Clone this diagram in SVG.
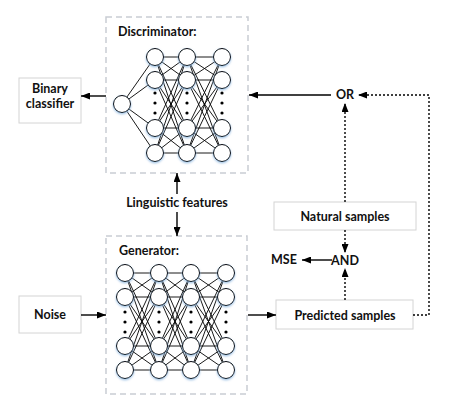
<svg xmlns="http://www.w3.org/2000/svg" width="464" height="419" viewBox="0 0 464 419">
<style>
.t{font-family:Lato,"Open Sans","Liberation Sans",sans-serif;font-weight:bold;font-size:12.5px;fill:#111}
.box{fill:#fff;stroke:#d4d4d4;stroke-width:1}
.nn{fill:#fff;stroke:#c9cdd3;stroke-width:1.5;stroke-dasharray:6,4}
.w{fill:none;stroke:#000;stroke-width:0.9}
.n{fill:#fff;stroke:#000;stroke-width:1}
.dot{fill:#000}
.a{fill:none;stroke:#000;stroke-width:1.4}
.d{fill:none;stroke:#000;stroke-width:1.4;stroke-dasharray:2,2}
</style>
<defs>
<marker id="ah" markerUnits="userSpaceOnUse" markerWidth="9" markerHeight="7" refX="9" refY="3.5" orient="auto"><path d="M0,0 L9,3.5 L0,7 z" fill="#000"/></marker>
<filter id="glow" x="-40%" y="-40%" width="180%" height="180%"><feDropShadow dx="0" dy="1.2" stdDeviation="1.2" flood-color="#8fb8e0" flood-opacity="0.9"/></filter>
</defs>
<rect width="464" height="419" fill="#fff"/>

<g id="discriminator">
<rect class="nn" x="106" y="17" width="142" height="156"/>
<text class="t" x="118" y="36">Discriminator:</text>
<path class="w" d="M122 104L155 57M122 104L155 80M122 104L155 128M122 104L155 153
M155 57L187 57M155 57L187 80M155 57L187 128M155 57L187 153
M155 80L187 57M155 80L187 80M155 80L187 128M155 80L187 153
M155 128L187 57M155 128L187 80M155 128L187 128M155 128L187 153
M155 153L187 57M155 153L187 80M155 153L187 128M155 153L187 153
M187 57L222 57M187 57L222 80M187 57L222 128M187 57L222 153
M187 80L222 57M187 80L222 80M187 80L222 128M187 80L222 153
M187 128L222 57M187 128L222 80M187 128L222 128M187 128L222 153
M187 153L222 57M187 153L222 80M187 153L222 128M187 153L222 153"/>
<g filter="url(#glow)">
<circle class="n" cx="122" cy="104" r="8.5"/>
<circle class="n" cx="155" cy="57" r="8.5"/><circle class="n" cx="155" cy="80" r="8.5"/><circle class="n" cx="155" cy="128" r="8.5"/><circle class="n" cx="155" cy="153" r="8.5"/>
<circle class="n" cx="187" cy="57" r="8.5"/><circle class="n" cx="187" cy="80" r="8.5"/><circle class="n" cx="187" cy="128" r="8.5"/><circle class="n" cx="187" cy="153" r="8.5"/>
<circle class="n" cx="222" cy="57" r="8.5"/><circle class="n" cx="222" cy="80" r="8.5"/><circle class="n" cx="222" cy="128" r="8.5"/><circle class="n" cx="222" cy="153" r="8.5"/>
</g>
<g class="dot">
<circle cx="155" cy="93" r="1.6"/><circle cx="155" cy="103" r="1.6"/><circle cx="155" cy="113" r="1.6"/>
<circle cx="187" cy="93" r="1.6"/><circle cx="187" cy="103" r="1.6"/><circle cx="187" cy="113" r="1.6"/>
<circle cx="222" cy="93" r="1.6"/><circle cx="222" cy="103" r="1.6"/><circle cx="222" cy="113" r="1.6"/>
</g>
</g>

<g id="generator">
<rect class="nn" x="106" y="236" width="141" height="158"/>
<text class="t" x="119" y="255">Generator:</text>
<path class="w" d="M125 273L159 273M125 273L159 297M125 273L159 346M125 273L159 370
M125 297L159 273M125 297L159 297M125 297L159 346M125 297L159 370
M125 346L159 273M125 346L159 297M125 346L159 346M125 346L159 370
M125 370L159 273M125 370L159 297M125 370L159 346M125 370L159 370
M159 273L191 273M159 273L191 297M159 273L191 346M159 273L191 370
M159 297L191 273M159 297L191 297M159 297L191 346M159 297L191 370
M159 346L191 273M159 346L191 297M159 346L191 346M159 346L191 370
M159 370L191 273M159 370L191 297M159 370L191 346M159 370L191 370
M191 273L226 273M191 273L226 297M191 273L226 346M191 273L226 370
M191 297L226 273M191 297L226 297M191 297L226 346M191 297L226 370
M191 346L226 273M191 346L226 297M191 346L226 346M191 346L226 370
M191 370L226 273M191 370L226 297M191 370L226 346M191 370L226 370"/>
<g filter="url(#glow)">
<circle class="n" cx="125" cy="273" r="8.5"/><circle class="n" cx="125" cy="297" r="8.5"/><circle class="n" cx="125" cy="346" r="8.5"/><circle class="n" cx="125" cy="370" r="8.5"/>
<circle class="n" cx="159" cy="273" r="8.5"/><circle class="n" cx="159" cy="297" r="8.5"/><circle class="n" cx="159" cy="346" r="8.5"/><circle class="n" cx="159" cy="370" r="8.5"/>
<circle class="n" cx="191" cy="273" r="8.5"/><circle class="n" cx="191" cy="297" r="8.5"/><circle class="n" cx="191" cy="346" r="8.5"/><circle class="n" cx="191" cy="370" r="8.5"/>
<circle class="n" cx="226" cy="273" r="8.5"/><circle class="n" cx="226" cy="297" r="8.5"/><circle class="n" cx="226" cy="346" r="8.5"/><circle class="n" cx="226" cy="370" r="8.5"/>
</g>
<g class="dot">
<circle cx="125" cy="312" r="1.6"/><circle cx="125" cy="322" r="1.6"/><circle cx="125" cy="332" r="1.6"/>
<circle cx="159" cy="312" r="1.6"/><circle cx="159" cy="322" r="1.6"/><circle cx="159" cy="332" r="1.6"/>
<circle cx="191" cy="312" r="1.6"/><circle cx="191" cy="322" r="1.6"/><circle cx="191" cy="332" r="1.6"/>
<circle cx="226" cy="312" r="1.6"/><circle cx="226" cy="322" r="1.6"/><circle cx="226" cy="332" r="1.6"/>
</g>
</g>

<g id="binary-classifier">
<rect class="box" x="19" y="78" width="62" height="45"/>
<text class="t" x="50" y="93" text-anchor="middle">Binary</text>
<text class="t" x="50" y="108" text-anchor="middle">classifier</text>
</g>

<g id="noise">
<rect class="box" x="19" y="296" width="62" height="37"/>
<text class="t" x="50" y="319" text-anchor="middle">Noise</text>
</g>

<g id="linguistic-features">
<text class="t" x="177" y="207" text-anchor="middle">Linguistic features</text>
</g>

<g id="or"><text class="t" x="345" y="99" text-anchor="middle">OR</text></g>

<g id="natural-samples">
<rect class="box" x="274" y="202" width="142" height="28"/>
<text class="t" x="345" y="221" text-anchor="middle">Natural samples</text>
</g>

<g id="and"><text class="t" x="345" y="265" text-anchor="middle">AND</text></g>
<g id="mse"><text class="t" x="284" y="264" text-anchor="middle">MSE</text></g>

<g id="predicted-samples">
<rect class="box" x="276" y="300" width="137" height="29"/>
<text class="t" x="345" y="320" text-anchor="middle">Predicted samples</text>
</g>

<g id="connectors">
<path class="a" d="M106 96H81" marker-end="url(#ah)"/>
<path class="a" d="M331 95H249" marker-end="url(#ah)"/>
<path class="d" d="M413 315H429V95H358" marker-end="url(#ah)"/>
<path class="d" d="M345 202V103" marker-end="url(#ah)"/>
<path class="d" d="M345 230V253" marker-end="url(#ah)"/>
<path class="d" d="M345 300V268" marker-end="url(#ah)"/>
<path class="a" d="M332 260H302" marker-end="url(#ah)"/>
<path class="a" d="M177 194V173" marker-end="url(#ah)"/>
<path class="a" d="M177 212V236" marker-end="url(#ah)"/>
<path class="a" d="M81 315H106" marker-end="url(#ah)"/>
<path class="a" d="M248 315H276" marker-end="url(#ah)"/>
</g>
</svg>
